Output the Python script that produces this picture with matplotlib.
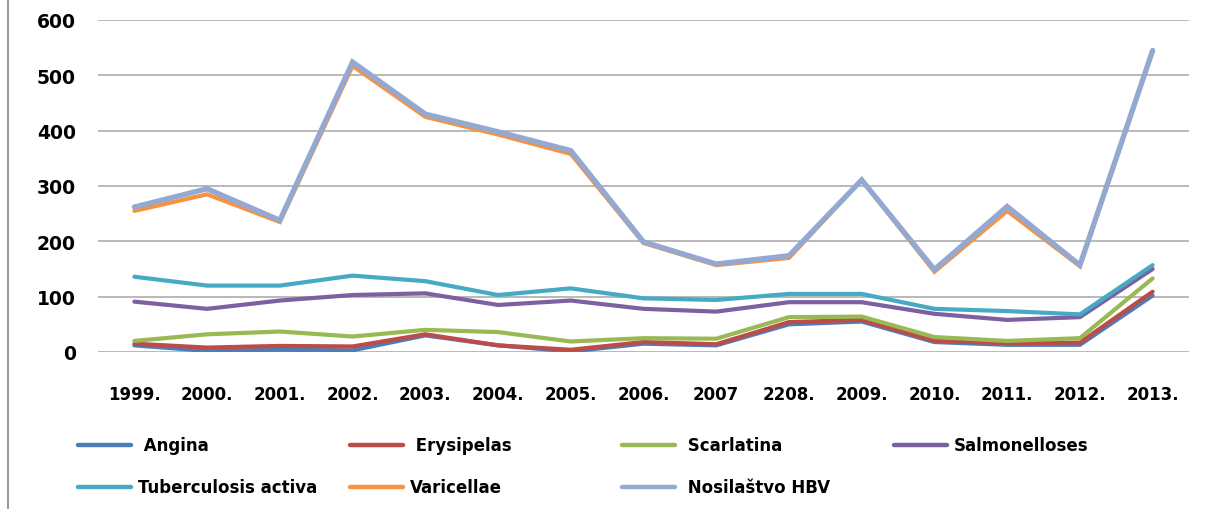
import matplotlib

matplotlib.use("Agg")
import matplotlib.pyplot as plt
from matplotlib.lines import Line2D

years = ["1999.", "2000.", "2001.", "2002.", "2003.", "2004.", "2005.", "2006.",
         "2007", "2208.", "2009.", "2010.", "2011.", "2012.", "2013."]

angina = [12, 2, 4, 3, 30, 12, 1, 15, 12, 50, 55, 18, 13, 13, 102]
erysipelas = [15, 8, 11, 10, 32, 12, 4, 18, 14, 54, 58, 20, 16, 17, 109]
scarlatina = [20, 32, 37, 28, 40, 36, 19, 25, 24, 63, 64, 27, 20, 25, 133]
salmonelloses = [91, 78, 93, 103, 106, 85, 93, 78, 73, 90, 90, 69, 58, 63, 150]
tuberculosis = [136, 120, 120, 138, 128, 103, 115, 97, 94, 105, 105, 78, 74, 68, 157]
varicellae = [255, 285, 235, 517, 425, 393, 358, 197, 157, 170, 311, 145, 255, 155, 543]
hbv = [262, 295, 238, 524, 430, 398, 364, 199, 159, 174, 311, 149, 263, 157, 545]

names = [" Angina", " Erysipelas", " Scarlatina", "Salmonelloses",
         "Tuberculosis activa", "Varicellae", " Nosilaštvo HBV"]
series = [angina, erysipelas, scarlatina, salmonelloses, tuberculosis, varicellae, hbv]
colors = ["#4A7EBB", "#BE4B48", "#98B954", "#7D60A0", "#46AAC5", "#F69240", "#93A9D1"]
widths = [3.0, 3.0, 3.0, 3.0, 3.0, 3.0, 3.8]

fig = plt.figure(figsize=(12.06, 5.1), dpi=100)
ax = fig.add_axes([98 / 1206, 1 - 353 / 510, 1091 / 1206, 332 / 510])

x = range(len(years))
for vals, c, lw in zip(series, colors, widths):
    ax.plot(x, vals, color=c, lw=lw, solid_capstyle="round", solid_joinstyle="miter")

ax.set_xlim(-0.5, len(years) - 0.5)
ax.set_ylim(0, 600)
ax.set_yticks(range(0, 601, 100))
ax.set_xticks(list(x))
ax.set_xticklabels(years)
ax.yaxis.grid(True, color="#ADADAD", lw=1.2)
ax.set_axisbelow(True)
for s in ax.spines.values():
    s.set_visible(False)
ax.tick_params(length=0)
ax.tick_params(axis="y", pad=16, labelsize=13.5)
ax.tick_params(axis="x", pad=24, labelsize=12)
for lab in ax.get_xticklabels() + ax.get_yticklabels():
    lab.set_fontweight("bold")

# legend drawn as a 4-column grid like the Excel original
for i, (name, c) in enumerate(zip(names, colors)):
    col, row = i % 4, i // 4
    x0 = (78 + col * 272) / 1206
    y0 = 1 - (446 + row * 42) / 510
    fig.add_artist(Line2D([x0, x0 + 53 / 1206], [y0, y0], color=c, lw=3.2,
                          solid_capstyle="round", transform=fig.transFigure))
    fig.text(x0 + 60 / 1206, y0, name, fontsize=12, fontweight="bold",
             va="center", ha="left")

# grey frame edge on the left
fig.add_artist(Line2D([8 / 1206, 8 / 1206], [0, 1], color="#9A9A9A", lw=1.5,
                      transform=fig.transFigure))

fig.savefig("out.png", dpi=100)
